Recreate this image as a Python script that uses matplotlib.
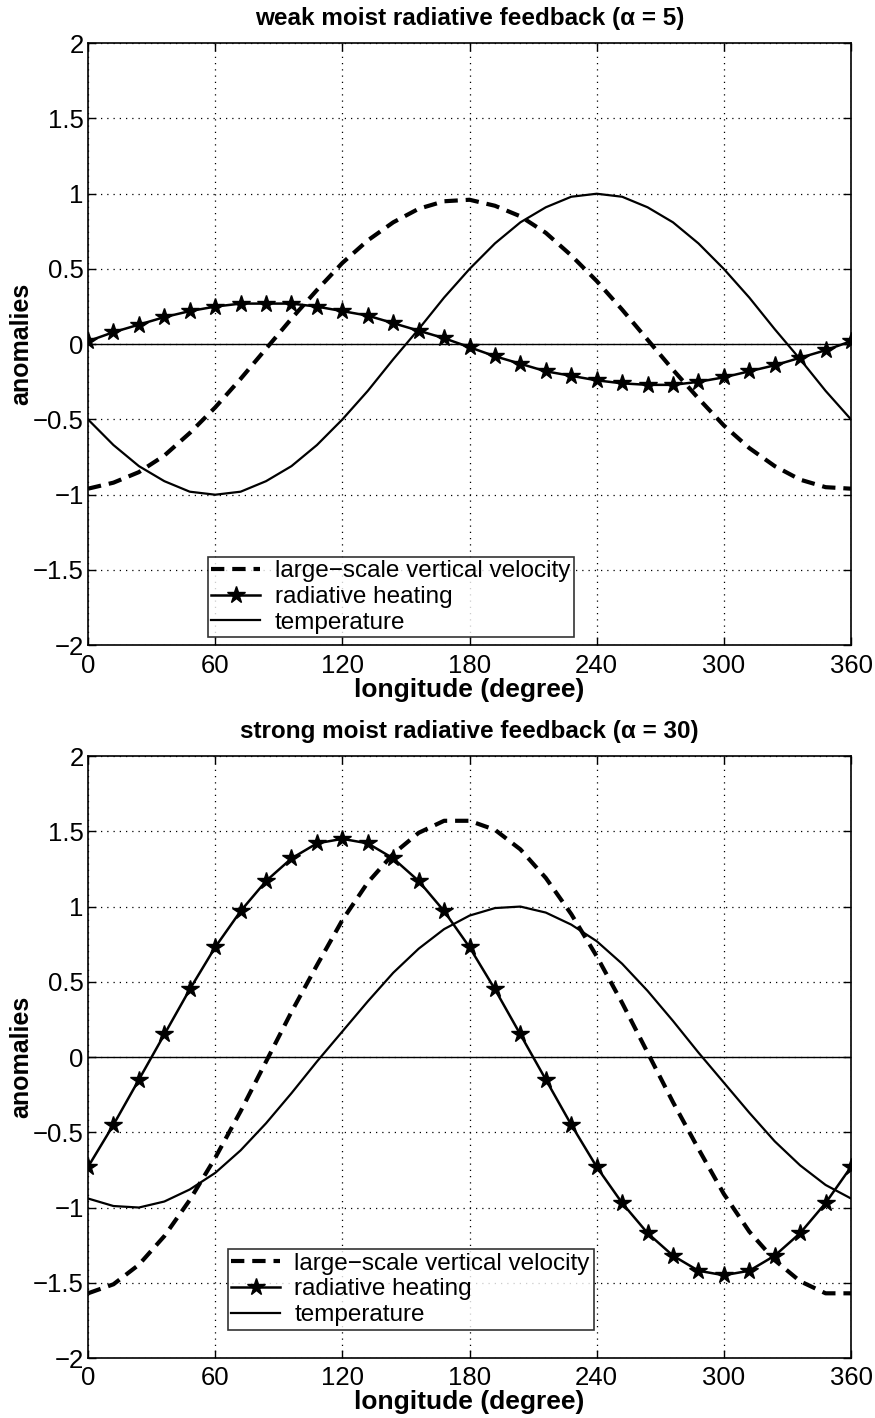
import numpy as np
import matplotlib
matplotlib.use("Agg")
import matplotlib.pyplot as plt

plt.rcParams['font.family'] = ['Liberation Sans', 'DejaVu Sans']

# longitude samples (degree)
lon = list(range(0, 361, 12))

# weak moist radiative feedback (alpha = 5)
w_velocity = [-0.96, -0.92, -0.85, -0.74, -0.59, -0.42, -0.23, -0.03, 0.17, 0.36, 0.54,
              0.69, 0.81, 0.90, 0.95, 0.96, 0.92, 0.85, 0.74, 0.59, 0.42, 0.23, 0.03,
              -0.17, -0.36, -0.54, -0.69, -0.81, -0.90, -0.95, -0.96]
w_heating = [0.02, 0.08, 0.13, 0.18, 0.22, 0.25, 0.27, 0.27, 0.27, 0.25, 0.22,
             0.19, 0.14, 0.09, 0.04, -0.02, -0.08, -0.13, -0.18, -0.21, -0.24, -0.26, -0.27,
             -0.27, -0.25, -0.22, -0.18, -0.14, -0.09, -0.04, 0.02]
w_temp = [-0.50, -0.67, -0.81, -0.91, -0.98, -1.00, -0.98, -0.91, -0.81, -0.67, -0.50,
          -0.31, -0.10, 0.10, 0.31, 0.50, 0.67, 0.81, 0.91, 0.98, 1.00, 0.98, 0.91,
          0.81, 0.67, 0.50, 0.31, 0.10, -0.10, -0.31, -0.50]

# strong moist radiative feedback (alpha = 30)
s_velocity = [-1.57, -1.51, -1.38, -1.19, -0.95, -0.67, -0.36, -0.03, 0.30, 0.61, 0.91,
              1.16, 1.35, 1.49, 1.57, 1.57, 1.51, 1.38, 1.19, 0.95, 0.67, 0.36, 0.03,
              -0.30, -0.61, -0.91, -1.16, -1.35, -1.49, -1.57, -1.57]
s_heating = [-0.73, -0.45, -0.15, 0.15, 0.45, 0.73, 0.97, 1.17, 1.32, 1.42, 1.45,
             1.42, 1.32, 1.17, 0.97, 0.73, 0.45, 0.15, -0.15, -0.45, -0.73, -0.97, -1.17,
             -1.32, -1.42, -1.45, -1.42, -1.32, -1.17, -0.97, -0.73]
s_temp = [-0.94, -0.99, -1.00, -0.96, -0.88, -0.77, -0.62, -0.44, -0.24, -0.03, 0.17,
          0.37, 0.56, 0.72, 0.85, 0.94, 0.99, 1.00, 0.96, 0.88, 0.77, 0.62, 0.44,
          0.24, 0.03, -0.17, -0.37, -0.56, -0.72, -0.85, -0.94]

xticks = [0, 60, 120, 180, 240, 300, 360]
yticks = [-2, -1.5, -1, -0.5, 0, 0.5, 1, 1.5, 2]
ytick_labels = ['\u22122', '\u22121.5', '\u22121', '\u22120.5', '0', '0.5', '1', '1.5', '2']

panels = [
    ('weak moist radiative feedback (\u03b1 = 5)', w_velocity, w_heating, w_temp,
     [0.1006, 0.545, 0.872, 0.4245], (0.157, 0.013)),
    ('strong moist radiative feedback (\u03b1 = 30)', s_velocity, s_heating, s_temp,
     [0.1006, 0.0423, 0.872, 0.4245], (0.183, 0.047)),
]

fig = plt.figure(figsize=(8.75, 14.18), dpi=100)

for title, vel, heat, temp, rect, legpos in panels:
    ax = fig.add_axes(rect)
    ax.axhline(0, color='black', lw=1.0)
    ax.plot(lon, vel, '--', color='black', lw=3.0, dashes=(3.2, 1.9),
            label='large\u2212scale vertical velocity')
    ax.plot(lon, heat, '-', color='black', lw=1.8, marker='*', markersize=13,
            label='radiative heating')
    ax.plot(lon, temp, '-', color='black', lw=1.6, label='temperature')
    ax.set_xlim(0, 360)
    ax.set_ylim(-2, 2)
    ax.set_xticks(xticks)
    ax.set_yticks(yticks)
    ax.set_yticklabels(ytick_labels)
    ax.grid(True, color='black', linestyle=(0, (1, 4)), lw=0.9)
    ax.tick_params(direction='in', length=6, labelsize=18.5, top=True, right=True,
                   width=1.0, pad=3)
    ax.tick_params(axis='x', pad=6)
    for sp in ax.spines.values():
        sp.set_linewidth(1.2)
    ax.set_title(title, fontsize=17.5, fontweight='bold', pad=13)
    ax.set_xlabel('longitude (degree)', fontsize=19, fontweight='bold', labelpad=0)
    ax.set_ylabel('anomalies', fontsize=18, fontweight='bold', labelpad=0)
    leg = ax.legend(loc='lower left', bbox_to_anchor=legpos, fontsize=17.5, frameon=True,
                    fancybox=False, edgecolor='black', handlelength=2.0,
                    borderpad=0.15, labelspacing=0.15, handletextpad=0.6,
                    borderaxespad=0)
    leg.get_frame().set_linewidth(1.2)

fig.savefig('out.png', dpi=100)
